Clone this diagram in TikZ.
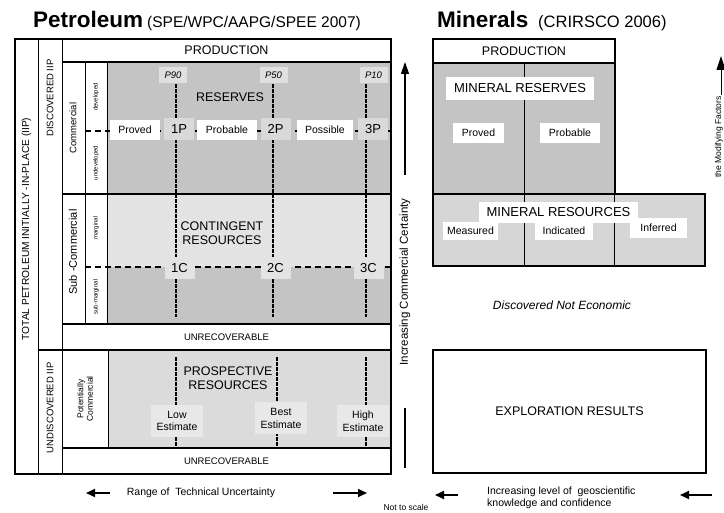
\documentclass[tikz,border=0pt]{standalone}
\usepackage{fontspec}
\setmainfont{Liberation Sans}
\usetikzlibrary{arrows.meta}

\definecolor{resgrey}{gray}{0.77}
\definecolor{contgrey}{gray}{0.89}
\definecolor{prosgrey}{gray}{0.86}
\definecolor{pgrey}{gray}{0.88}
\definecolor{cgrey}{gray}{0.85}
\definecolor{egrey}{gray}{0.91}
\definecolor{mresgrey}{gray}{0.84}

\tikzset{
  bigtxt/.style={font=\fontsize{12.5}{14.5}\selectfont},
  midtxt/.style={font=\fontsize{10.5}{12.5}\selectfont},
  smalltxt/.style={font=\fontsize{9.5}{11}\selectfont},
  tinytxt/.style={font=\fontsize{6}{7}\selectfont},
  thickframe/.style={line width=2pt},
  thinline/.style={line width=0.8pt},
  dashline/.style={line width=1.6pt, dash pattern=on 6pt off 4pt},
  estline/.style={line width=2.8pt, dash pattern=on 1.6pt off 0.9pt},
  tag/.style={fill=white, inner sep=0pt},
  pbox/.style={fill=pgrey, inner sep=0pt, minimum width=28pt, minimum height=16pt, font=\fontsize{9.5}{11}\selectfont\itshape},
  cbox/.style={fill=cgrey, inner sep=0pt, minimum width=30pt, minimum height=22pt, font=\fontsize{13}{15}\selectfont},
  ebox/.style={fill=egrey, inner sep=0pt, minimum width=52pt, minimum height=32pt, align=center, font=\fontsize{10.5}{12.5}\selectfont},
  arr/.style={line width=2pt, -{Triangle[length=9pt,width=8pt]}},
}

\begin{document}
\begin{tikzpicture}[yscale=-1, x=1pt, y=1pt]
    \useasboundingbox (0,0) rectangle (724,513);

    % titles
    \node [anchor=base west, inner sep=0pt, font=\fontsize{22.5}{24}\selectfont\bfseries] (pettitle) at (33,28) {Petroleum};
    \node [anchor=base west, inner sep=0pt, font=\fontsize{15.5}{18}\selectfont] (petsrc) at (147,28) {(SPE/WPC/AAPG/SPEE 2007)};
    \node [anchor=base west, inner sep=0pt, font=\fontsize{22.5}{24}\selectfont\bfseries] (mintitle) at (437,28) {Minerals};
    \node [anchor=base west, inner sep=0pt, font=\fontsize{16.5}{18}\selectfont] (minsrc) at (538,28) {(CRIRSCO 2006)};

    % petroleum shading
    \fill [resgrey] (107,62) rectangle (391,194);
    \fill [contgrey] (107,194) rectangle (391,267);
    \fill [resgrey] (107,267) rectangle (391,324);
    \fill [prosgrey] (108,350) rectangle (391,448);

    \draw [dashline] (85,131) -- (391,131);
    \draw [dashline] (85,267) -- (391,267);

    \foreach \x in {176,273,366} \draw [estline] (\x,84) -- (\x,317);
    \foreach \x in {176,277,366} \draw [estline] (\x,357) -- (\x,446);

    % petroleum frame
    \draw [thinline] (38,39) -- (38,474);
    \draw [thinline] (62,39) -- (62,474);
    \draw [thinline] (85,62) -- (85,324);
    \draw [thinline] (107,62) -- (107,324);
    \draw [thinline] (108,350) -- (108,448);
    \draw [thickframe] (62,62) -- (391,62);
    \draw [line width=1.5pt] (62,194) -- (391,194);
    \draw [thickframe] (62,324) -- (391,324);
    \draw [thickframe] (38,350) -- (391,350);
    \draw [thickframe] (62,448) -- (391,448);
    \draw [line width=2.3pt] (15,39) rectangle (391,474);

    \node [bigtxt] (prod) at (226.5,50.5) {PRODUCTION};
    \node [smalltxt] (unrec1) at (226.5,337) {UNRECOVERABLE};
    \node [smalltxt] (unrec2) at (226.5,461) {UNRECOVERABLE};

    \node [rotate=90, font=\fontsize{10.2}{12}\selectfont] (tpiip) at (26.5,229) {TOTAL PETROLEUM INITIALLY -IN-PLACE (IIP)};
    \node [rotate=90, smalltxt] (disc) at (50,98) {DISCOVERED IIP};
    \node [rotate=90, smalltxt] (undisc) at (50,408) {UNDISCOVERED IIP};
    \node [rotate=90, font=\fontsize{9.5}{11}\selectfont] (comm) at (73,128) {Commercial};
    \node [rotate=90, font=\fontsize{11}{13}\selectfont] (subcomm) at (73,252) {Sub -Commercial};
    \node [rotate=90, tinytxt] (dev) at (96,97) {developed};
    \node [rotate=90, tinytxt] (undev) at (96,163) {undeveloped};
    \node [rotate=90, tinytxt] (marg) at (96,228) {marginal};
    \node [rotate=90, tinytxt] (submarg) at (96,297) {sub-marginal};
    \node [rotate=90, align=center, font=\fontsize{8.5}{9.5}\selectfont] (potcomm) at (85,399) {Potentially\\Commercial};

    \node [pbox] (p90) at (173,75) {P90};
    \node [pbox] (p50) at (273.5,75) {P50};
    \node [pbox] (p10) at (373.5,75) {P10};
    \node [bigtxt] (reserves) at (230,97) {RESERVES};

    \node [tag, midtxt, minimum width=50pt, minimum height=20pt] (proved) at (135,130) {Proved};
    \node [cbox] (onep) at (179,129) {1P};
    \node [tag, midtxt, minimum width=60pt, minimum height=20pt] (probable) at (227,130) {Probable};
    \node [cbox] (twop) at (275.5,129) {2P};
    \node [tag, midtxt, minimum width=56pt, minimum height=20pt] (possible) at (325,130) {Possible};
    \node [cbox] (threep) at (373,129) {3P};

    \node [bigtxt, align=center] (contres) at (222,233) {CONTINGENT\\RESOURCES};
    \node [cbox, fill=contgrey] (onec) at (179.5,268) {1C};
    \node [cbox, fill=contgrey] (twoc) at (275.5,268) {2C};
    \node [cbox, fill=contgrey] (threec) at (368.5,268) {3C};

    \node [bigtxt, align=center] (prosres) at (228,378) {PROSPECTIVE\\RESOURCES};
    \node [ebox] (low) at (177,421) {Low\\Estimate};
    \node [ebox] (best) at (281,418.5) {Best\\Estimate};
    \node [ebox] (high) at (363,421) {High\\Estimate};

    % certainty and uncertainty arrows
    \coordinate (certbot) at (405,175);
    \coordinate (certtop) at (405,62);
    \coordinate (certlow) at (405,468);
    \coordinate (certmid) at (405,408);
    \draw [line width=1.2pt, -{Triangle[length=12pt,width=8pt]}] (certbot) -- (certtop);
    \draw [line width=1.2pt] (certmid) -- (certlow);
    \node [rotate=90, font=\fontsize{11.5}{13}\selectfont] (certtxt) at (405,282) {Increasing Commercial Certainty};

    \coordinate (unleftA) at (110,493);
    \coordinate (unleftB) at (86,493);
    \coordinate (unrightA) at (333,493);
    \coordinate (unrightB) at (367,493);
    \draw [arr] (unleftA) -- (unleftB);
    \draw [arr] (unrightA) -- (unrightB);
    \node [midtxt] (rangetxt) at (201,493) {Range of~ Technical Uncertainty};
    \node [font=\fontsize{8.5}{10}\selectfont] (notscale) at (406,507) {Not to scale};

    % minerals
    \draw [thickframe, fill=resgrey] (433,63) rectangle (615,194);
    \draw [thinline] (524,63) -- (524,194);
    \draw [thickframe, fill=mresgrey] (433,194) rectangle (705,266);
    \draw [thinline] (524,194) -- (524,266);
    \draw [thinline] (614,194) -- (614,266);
    \draw [thickframe] (433,39) rectangle (615,63) node [pos=.5, bigtxt] (mprod) {PRODUCTION};

    \node [tag, font=\fontsize{13}{15}\selectfont, minimum width=148pt, minimum height=23pt] (mres) at (520,88.5) {MINERAL RESERVES};
    \node [tag, midtxt, minimum width=51pt, minimum height=20pt] (mproved) at (478.5,133) {Proved};
    \node [tag, midtxt, minimum width=60pt, minimum height=20pt] (mprob) at (570,133) {Probable};
    \node [tag, font=\fontsize{13}{15}\selectfont, minimum width=159pt, minimum height=21pt] (mresc) at (558.5,212.5) {MINERAL RESOURCES};
    \node [tag, midtxt, minimum width=55pt, minimum height=18pt] (measured) at (470.5,231) {Measured};
    \node [tag, midtxt, minimum width=58pt, minimum height=18pt] (indicated) at (564,231) {Indicated};
    \node [tag, midtxt, minimum width=57pt, minimum height=20pt] (inferred) at (658.5,228) {Inferred};

    \node [font=\fontsize{12}{14}\selectfont\itshape] (dne) at (562,305) {Discovered Not Economic};
    \draw [thickframe] (433,350) rectangle (706,473) node [pos=.5, bigtxt] (explo) {EXPLORATION RESULTS};

    \coordinate (knowA) at (458,495);
    \coordinate (knowB) at (435,495);
    \coordinate (knowC) at (712,495);
    \coordinate (knowD) at (680,495);
    \draw [arr] (knowA) -- (knowB);
    \draw [arr] (knowC) -- (knowD);
    \node [anchor=west, align=left, midtxt, inner sep=0pt] (knowtxt) at (487,498) {Increasing level of~ geoscientific\\knowledge and confidence};

    \coordinate (modbot) at (721,95);
    \coordinate (modtop) at (721,56);
    \draw [line width=1pt, -{Triangle[length=14pt,width=9pt]}] (modbot) -- (modtop);
    \node [rotate=90, font=\fontsize{8.5}{10}\selectfont] (modtxt) at (719,137) {the Modifying Factors};
\end{tikzpicture}
\end{document}
